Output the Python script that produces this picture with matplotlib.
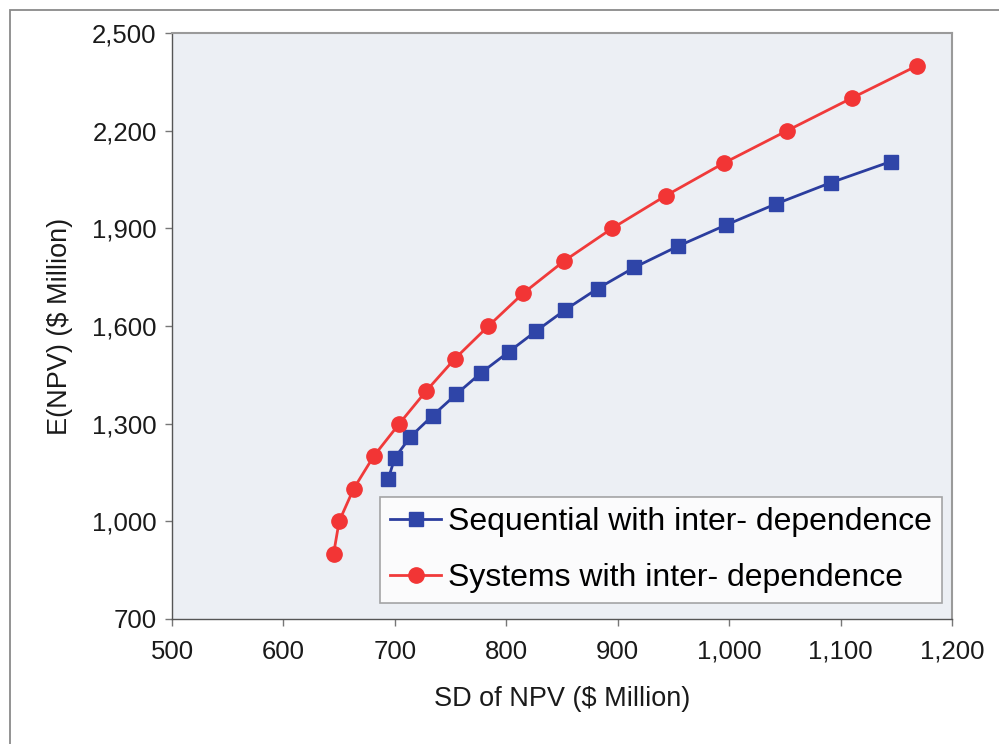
import matplotlib
matplotlib.use("Agg")
import matplotlib.pyplot as plt
from matplotlib.patches import Rectangle
from matplotlib.ticker import FuncFormatter

plt.rcParams['font.family'] = ['Liberation Sans', 'DejaVu Sans']

# Sequential with inter-dependence
seq_sd = [694, 700, 714, 734, 755, 777, 802, 827, 853, 882, 915, 954, 997, 1042, 1091, 1145]
seq_e = [1130, 1195, 1260, 1325, 1390, 1455, 1520, 1585, 1650, 1715, 1780, 1845, 1910, 1975, 2040, 2105]

# Systems with inter-dependence
sys_sd = [645, 650, 663, 681, 704, 728, 754, 784, 815, 852, 895, 943, 995, 1052, 1110, 1169]
sys_e = [900, 1000, 1100, 1200, 1300, 1400, 1500, 1600, 1700, 1800, 1900, 2000, 2100, 2200, 2300, 2400]

x_ticks = [500, 600, 700, 800, 900, 1000, 1100, 1200]
y_ticks = [700, 1000, 1300, 1600, 1900, 2200, 2500]

fig = plt.figure(figsize=(9.99, 7.44), dpi=100)
fig.patch.set_facecolor('white')
fig.patches.append(Rectangle((10 / 999, -0.05), 1.1, 1 - 10 / 744 + 0.05, transform=fig.transFigure,
                             fill=False, edgecolor='#8a8a8a', linewidth=1.3))

ax = fig.add_axes([172 / 999, 1 - 619 / 744, (952 - 172) / 999, (619 - 33) / 744])
ax.set_facecolor('#eceff4')

ax.plot(seq_sd, seq_e, color='#2b3d9e', linewidth=2, marker='s', markersize=10,
        markerfacecolor='#2f45a8', markeredgecolor='#2f45a8',
        label='Sequential with inter- dependence')
ax.plot(sys_sd, sys_e, color='#f03a3a', linewidth=2, marker='o', markersize=11,
        markerfacecolor='#f23535', markeredgecolor='#f23535',
        label='Systems with inter- dependence')

ax.set_xlim(500, 1200)
ax.set_ylim(700, 2500)
ax.set_xticks(x_ticks)
ax.set_yticks(y_ticks)
fmt = FuncFormatter(lambda v, p: f"{int(v):,}")
ax.xaxis.set_major_formatter(fmt)
ax.yaxis.set_major_formatter(fmt)
ax.tick_params(axis='both', labelsize=18.5, direction='out', length=5, width=1,
               color='#777777', labelcolor='#1a1a1a')
ax.tick_params(axis='x', pad=10)
ax.tick_params(axis='y', pad=6)

for side in ['left', 'bottom']:
    ax.spines[side].set_color('#555555')
    ax.spines[side].set_linewidth(1.0)
for side in ['top', 'right']:
    ax.spines[side].set_color('#9a9a9a')
    ax.spines[side].set_linewidth(1.5)

ax.set_xlabel('SD of NPV ($ Million)', fontsize=19.5, labelpad=16, color='#1a1a1a')
ax.set_ylabel('E(NPV) ($ Million)', fontsize=19.5, labelpad=14, color='#1a1a1a')

leg = ax.legend(loc='lower right', bbox_to_anchor=(0.987, 0.027), fontsize=23,
                frameon=True, fancybox=False, edgecolor='#909090',
                handlelength=1.6, handletextpad=0.2, borderpad=0.32, labelspacing=0.82,
                borderaxespad=0.0)
leg.get_frame().set_linewidth(1.2)
leg.get_frame().set_facecolor('white')

fig.savefig('out.png', dpi=100)
